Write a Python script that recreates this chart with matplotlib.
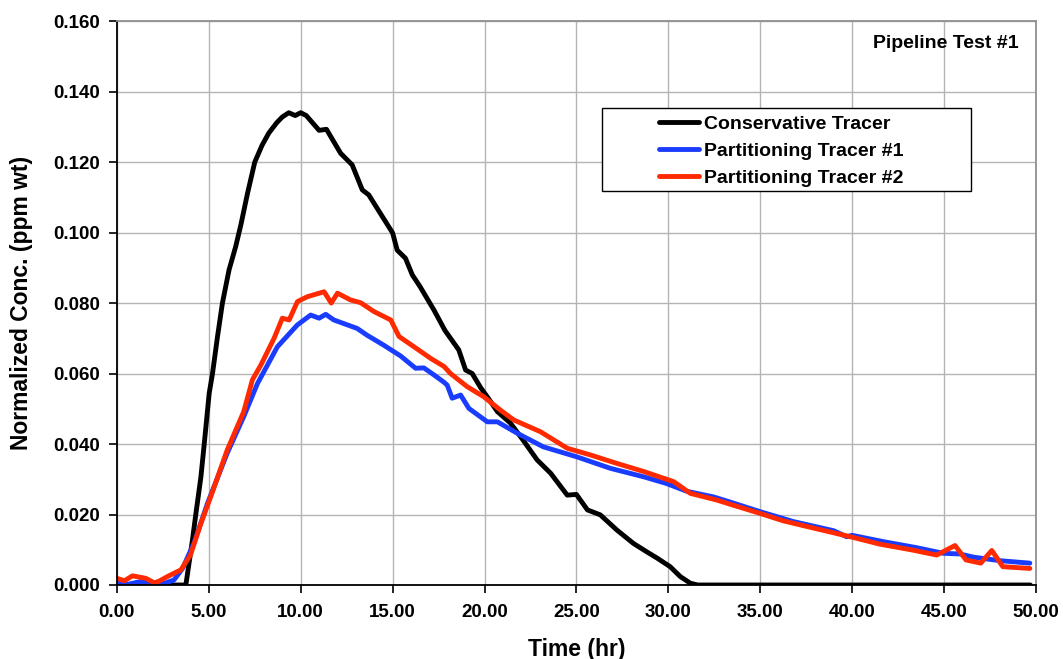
import matplotlib.pyplot as plt
from matplotlib.patches import Rectangle

plt.rcParams['font.family'] = ['Liberation Sans', 'DejaVu Sans']
plt.rcParams['font.weight'] = 'bold'

# Conservative tracer (black)
cons_t = [0.0, 1.0, 2.0, 3.0, 3.75, 4.11, 4.29, 4.57, 4.75, 5.02, 5.2, 5.47, 5.74,
          6.1, 6.46, 6.74, 7.1, 7.5, 7.9, 8.26, 8.7, 9.0, 9.35, 9.7, 10.0, 10.3,
          11.0, 11.4, 12.17, 12.8, 13.35, 13.7, 15.0, 15.25, 15.7, 16.07, 16.5, 17.25,
          17.85, 18.15, 18.6, 18.97, 19.33, 19.8, 20.15, 20.7, 21.4, 22.1, 22.86,
          23.6, 24.5, 25.0, 25.6, 26.3, 27.2, 28.1, 28.8, 29.4, 30.1, 30.65, 31.2,
          31.6, 35.0, 40.0, 45.0, 49.7]
cons_c = [0.0, 0.0, 0.0, 0.0, 0.0, 0.0128, 0.020, 0.0307, 0.040, 0.0544, 0.060,
          0.0704, 0.080, 0.0894, 0.096, 0.1021, 0.111, 0.120, 0.1248, 0.1282, 0.1312,
          0.1328, 0.134, 0.1332, 0.134, 0.1332, 0.129, 0.1293, 0.1225, 0.1192, 0.1121,
          0.1107, 0.0999, 0.095, 0.0927, 0.088, 0.0846, 0.078, 0.0722, 0.070, 0.0667,
          0.061, 0.060, 0.0559, 0.0534, 0.0492, 0.046, 0.0411, 0.0355, 0.0317, 0.0255,
          0.0257, 0.0213, 0.0199, 0.0156, 0.0118, 0.0095, 0.0076, 0.0052, 0.0024,
          0.0005, 0.0, 0.0, 0.0, 0.0, 0.0]

# Partitioning tracer #1 (blue)
p1_t = [0.0, 0.6, 1.3, 2.0, 2.6, 3.1, 3.57, 4.2, 4.93, 6.0, 6.9, 7.65, 8.73, 9.82,
        10.54, 11.0, 11.36, 11.8, 13.07, 13.6, 14.5, 15.43, 16.25, 16.7, 17.25, 17.8,
        17.97, 18.24, 18.7, 19.15, 20.15, 20.7, 21.8, 23.2, 25.0, 26.85, 28.66, 29.9,
        31.0, 32.45, 33.2, 35.0, 36.8, 39.0, 39.7, 40.0, 41.7, 43.5, 44.96, 45.87,
        46.6, 48.04, 49.67]
p1_c = [0.0008, 0.0002, 0.001, 0.0, 0.0005, 0.0014, 0.0047, 0.012, 0.0232, 0.0374,
        0.0478, 0.0572, 0.0676, 0.0738, 0.0766, 0.0757, 0.0768, 0.0752, 0.0728,
        0.0709, 0.0681, 0.0650, 0.0615, 0.0616, 0.0596, 0.0575, 0.0567, 0.053, 0.0539,
        0.0501, 0.0463, 0.0463, 0.043, 0.0392, 0.0364, 0.0331, 0.0307, 0.0288, 0.0266,
        0.025, 0.0238, 0.0208, 0.018, 0.0154, 0.0137, 0.0141, 0.0123, 0.0106, 0.009,
        0.0088, 0.0079, 0.0069, 0.0062]

# Partitioning tracer #2 (red)
p2_t = [0.0, 0.4, 0.85, 1.57, 2.03, 2.3, 2.75, 3.48, 4.0, 4.57, 5.1, 6.0, 6.9, 7.37,
        7.83, 8.55, 9.0, 9.37, 9.82, 10.36, 11.27, 11.66, 12.0, 12.7, 13.26, 13.98,
        14.9, 15.35, 16.16, 17.07, 17.8, 18.15, 19.05, 19.96, 20.87, 21.6, 23.04,
        24.5, 25.76, 27.2, 28.66, 30.3, 31.2, 32.64, 33.5, 35.0, 36.26, 37.7, 39.9,
        41.5, 43.3, 44.6, 45.6, 46.2, 47.0, 47.6, 48.2, 49.67]
p2_c = [0.0019, 0.0012, 0.0026, 0.0019, 0.0006, 0.0011, 0.0024, 0.0043, 0.0085,
        0.0175, 0.025, 0.0383, 0.0492, 0.0582, 0.0624, 0.070, 0.0757, 0.0752, 0.0804,
        0.0818, 0.0832, 0.080, 0.0828, 0.0809, 0.0801, 0.0776, 0.0752, 0.0705, 0.0676,
        0.0643, 0.062, 0.060, 0.0563, 0.0534, 0.0496, 0.0468, 0.0435, 0.0388, 0.0369,
        0.0345, 0.0322, 0.0293, 0.026, 0.0241, 0.0227, 0.0203, 0.0182, 0.0164, 0.0137,
        0.0116, 0.0099, 0.0085, 0.0112, 0.0071, 0.0062, 0.0098, 0.0052, 0.0047]

x_ticks = [0, 5, 10, 15, 20, 25, 30, 35, 40, 45, 50]
y_ticks = [0.0, 0.02, 0.04, 0.06, 0.08, 0.10, 0.12, 0.14, 0.16]

fig = plt.figure(figsize=(10.63, 6.59), dpi=100)
ax = fig.add_axes([0.110, 0.1123, 0.8645, 0.8557])

ax.grid(True, color='#b4b4b4', linewidth=1.0)
ax.set_axisbelow(True)

lw = 3.5
style = dict(lw=lw, solid_joinstyle='round', solid_capstyle='round')
ax.plot(cons_t, cons_c, color='black', label='Conservative Tracer', **style)
ax.plot(p1_t, p1_c, color='#1a3cff', label='Partitioning Tracer #1', **style)
ax.plot(p2_t, p2_c, color='#ff2a00', label='Partitioning Tracer #2', **style)

ax.set_xlim(0, 50)
ax.set_ylim(0, 0.16)
ax.set_xticks(x_ticks)
ax.set_xticklabels([f'{v:.2f}' for v in x_ticks])
ax.set_yticks(y_ticks)
ax.set_yticklabels([f'{v:.3f}' for v in y_ticks])
ax.tick_params(axis='both', labelsize=13.5, length=6, width=1.2, color='black')
ax.tick_params(axis='x', pad=8)
ax.tick_params(axis='y', pad=6)

for side in ['left', 'bottom']:
    ax.spines[side].set_color('black')
    ax.spines[side].set_linewidth(1.3)
for side in ['top', 'right']:
    ax.spines[side].set_color('#909090')
    ax.spines[side].set_linewidth(1.3)

ax.set_xlabel('Time (hr)', fontsize=16.5, fontweight='bold', labelpad=12)
ax.set_ylabel('Normalized Conc. (ppm wt)', fontsize=16.5, fontweight='bold', labelpad=15)

ax.text(0.981, 0.961, 'Pipeline Test #1', transform=ax.transAxes, ha='right',
        va='center', fontsize=14, fontweight='bold')

# legend box drawn separately, wider than its contents like the original
ax.add_patch(Rectangle((0.5274, 0.6986), 0.4019, 0.1466, transform=ax.transAxes,
                       facecolor='white', edgecolor='black', lw=1.0, zorder=4))
leg = ax.legend(loc='upper left', bbox_to_anchor=(0.590, 0.833), fontsize=14,
                frameon=False, handlelength=2.06, borderpad=0, labelspacing=0.48,
                handletextpad=0.25, borderaxespad=0)
leg.set_zorder(5)
for t in leg.get_texts():
    t.set_fontweight('bold')

fig.savefig('out.png', dpi=100)
